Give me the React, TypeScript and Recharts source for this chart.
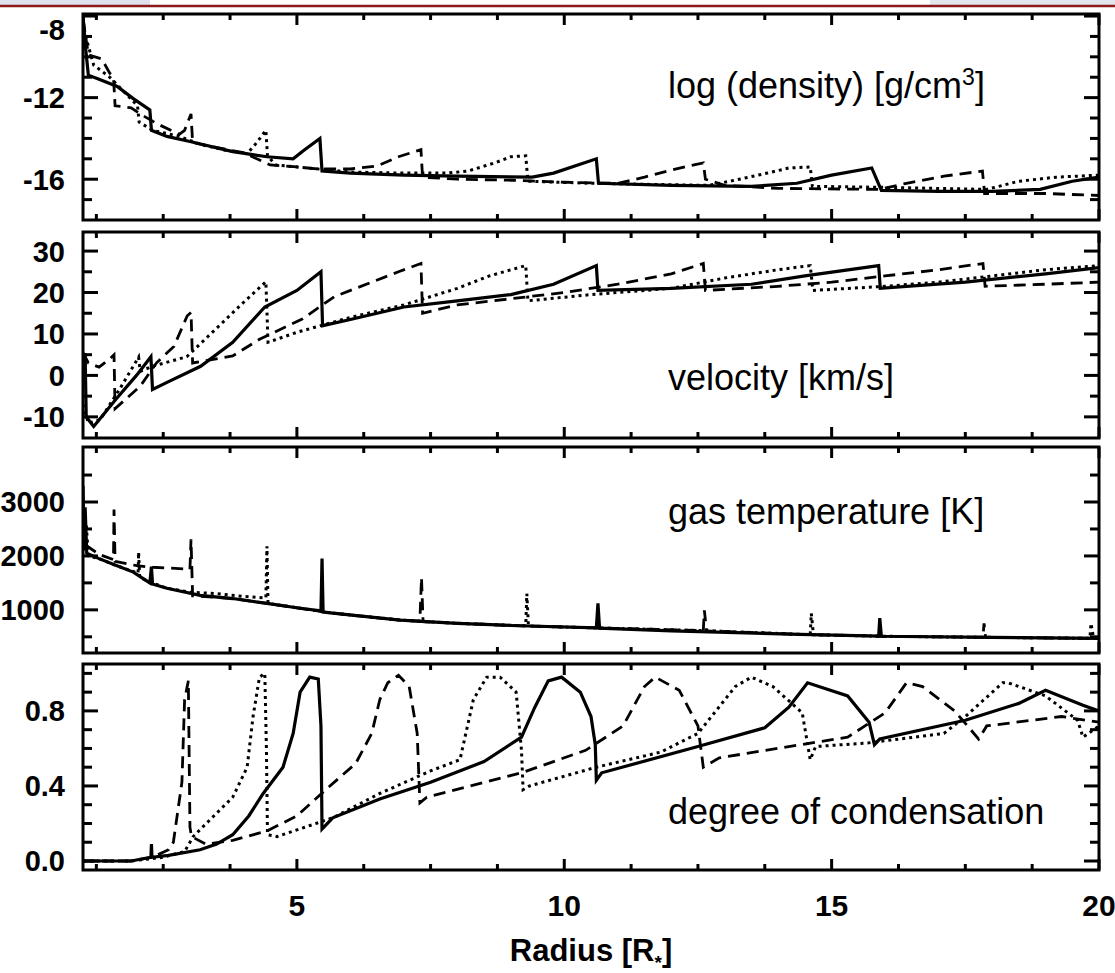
import React from 'react';
import { LineChart, Line, XAxis, YAxis, ReferenceArea } from 'recharts';

type Pt = [number, number];

// shared radius axis
const xTicks = [1.25, 2.5, 3.75, 5, 6.25, 7.5, 8.75, 10, 11.25, 12.5, 13.75, 15, 16.25, 17.5, 18.75, 20];
const xLabels = [5, 10, 15, 20];

// log(density)
const densityTicks = [-17, -16, -15, -14, -13, -12, -11, -10, -9, -8];
const densityLabels = [-16, -12, -8];
const densitySolid: Pt[] = [
  [1.0, -8.0], [1.05, -9.6], [1.1, -10.9], [1.3, -11.1], [1.64, -11.45], [1.94, -12.05], [2.25, -12.6],
  [2.28, -13.6], [2.57, -13.9], [3.0, -14.15], [3.8, -14.65], [4.44, -14.9], [4.93, -15.0], [5.12, -14.6],
  [5.43, -14.0], [5.47, -15.6], [6.0, -15.7], [7.0, -15.8], [8.0, -15.85], [9.4, -15.9], [9.8, -15.7],
  [10.6, -15.0], [10.64, -16.2], [12.0, -16.3], [13.5, -16.35], [14.35, -16.2], [15.0, -15.8], [15.75, -15.45],
  [15.93, -16.55], [17.0, -16.6], [18.0, -16.6], [18.9, -16.5], [19.5, -16.1], [20.0, -15.9],
];
const densityDashed: Pt[] = [
  [1.0, -8.1], [1.1, -9.9], [1.35, -10.1], [1.5, -10.8], [1.57, -11.0], [1.6, -12.4], [1.9, -12.5],
  [2.1, -12.85], [2.4, -13.3], [2.8, -13.8], [2.9, -13.6], [3.02, -12.8], [3.05, -14.2], [3.4, -14.4],
  [4.0, -14.7], [4.5, -15.3], [5.0, -15.4], [5.4, -15.5], [6.0, -15.5], [6.5, -15.35], [6.9, -14.9],
  [7.32, -14.55], [7.35, -15.9], [8.0, -16.0], [9.0, -16.05], [10.0, -16.15], [11.0, -16.2], [11.5, -15.9],
  [12.0, -15.55], [12.6, -15.2], [12.64, -16.0], [13.0, -16.3], [14.0, -16.45], [15.9, -16.5], [16.4, -16.2],
  [17.1, -15.85], [17.82, -15.6], [17.86, -16.7], [19.0, -16.7], [20.0, -16.8],
];
const densityDotted: Pt[] = [
  [1.0, -8.3], [1.05, -9.0], [1.2, -10.4], [1.5, -11.0], [1.8, -11.8], [2.02, -12.4], [2.05, -13.2],
  [2.3, -13.6], [2.8, -13.9], [3.2, -14.3], [3.7, -14.6], [4.07, -14.75], [4.25, -14.2], [4.42, -13.6],
  [4.45, -14.85], [4.6, -15.3], [5.2, -15.45], [6.0, -15.65], [7.0, -15.7], [7.8, -15.7], [8.2, -15.6],
  [8.7, -15.2], [9.0, -14.9], [9.28, -14.85], [9.32, -16.1], [10.5, -16.2], [11.5, -16.25], [12.7, -16.3],
  [13.1, -16.1], [13.8, -15.7], [14.2, -15.45], [14.6, -15.4], [14.64, -16.35], [16.0, -16.4], [17.9, -16.5],
  [18.5, -16.1], [19.2, -15.9], [20.0, -15.8],
];

// velocity [km/s]
const velocityTicks = [-10, -5, 0, 5, 10, 15, 20, 25, 30];
const velocityLabels = [-10, 0, 10, 20, 30];
const velocitySolid: Pt[] = [
  [1.0, 5], [1.04, 5], [1.06, -10], [1.2, -12.3], [1.6, -6], [2.0, 0], [2.27, 4.5], [2.3, -3.4], [2.6, -1.5],
  [3.2, 2.2], [3.8, 8], [4.4, 16.5], [5.0, 20.5], [5.45, 25], [5.48, 12], [6.0, 13.5], [7.0, 16.5], [8.0, 18],
  [9.0, 19.5], [9.8, 22], [10.6, 26.5], [10.63, 20.5], [12.0, 21], [13.5, 22], [14.5, 24], [15.88, 26.5],
  [15.91, 21], [17.5, 22.5], [19.0, 24.5], [20.0, 26],
];
const velocityDashed: Pt[] = [
  [1.0, 5.5], [1.1, 3], [1.3, 2], [1.5, 4], [1.58, 5], [1.6, -8], [2.07, -2.6], [2.38, 3.1], [2.7, 7],
  [2.95, 14.4], [3.02, 15.2], [3.05, 3], [3.8, 4.7], [4.3, 8.7], [5.1, 13.6], [5.7, 19], [6.9, 25],
  [7.32, 27], [7.35, 15], [8.0, 17], [9.0, 18.5], [10.0, 20], [11.0, 22], [12.0, 24.5], [12.6, 27],
  [12.64, 20.5], [14.0, 21.5], [15.0, 22.5], [16.0, 24], [17.0, 25.5], [17.83, 27], [17.87, 21.5],
  [19.0, 22], [20.0, 22.5],
];
const velocityDotted: Pt[] = [
  [1.0, -7], [1.1, -11.5], [1.32, -10.7], [1.7, -3], [2.04, 4.4], [2.07, 1], [2.3, 2.2], [2.94, 4.5],
  [3.5, 11.4], [4.0, 17.6], [4.42, 22.6], [4.46, 8], [5.0, 10.4], [6.0, 14], [7.0, 17], [8.0, 21], [8.6, 24],
  [9.28, 26.5], [9.32, 18], [10.5, 19.5], [12.0, 21], [13.0, 23.5], [14.0, 25.5], [14.6, 26.5], [14.65, 20.5],
  [16.0, 21.5], [17.0, 22.5], [18.0, 24], [19.0, 25.5], [20.0, 26.5],
];

// gas temperature [K]
const temperatureTicks = [500, 1000, 1500, 2000, 2500, 3000, 3500];
const temperatureLabels = [1000, 2000, 3000];
const temperatureSolid: Pt[] = [
  [1.0, 3300], [1.02, 2100], [1.04, 2900], [1.07, 2050], [1.3, 1950], [1.6, 1830], [1.94, 1700], [2.25, 1500],
  [2.28, 1800], [2.3, 1480], [2.57, 1400], [3.19, 1270], [3.8, 1210], [4.44, 1120], [5.06, 1030], [5.45, 980],
  [5.46, 1450], [5.47, 1950], [5.49, 960], [5.67, 940], [6.93, 810], [8.0, 750], [9.0, 710], [10.6, 665],
  [10.63, 1120], [10.66, 660], [12.0, 610], [14.4, 545], [15.88, 515], [15.9, 845], [15.93, 510], [18.0, 490],
  [20.0, 470],
];
const temperatureDashed: Pt[] = [
  [1.0, 2900], [1.05, 2200], [1.3, 2030], [1.57, 1930], [1.58, 2860], [1.6, 1900], [2.0, 1820], [2.3, 1790],
  [2.9, 1760], [3.0, 1750], [3.02, 2310], [3.05, 1260], [3.8, 1210], [4.44, 1120], [5.06, 1030], [5.67, 940],
  [6.93, 810], [7.3, 790], [7.33, 1600], [7.36, 780], [9.0, 710], [10.6, 665], [12.6, 615], [12.62, 990],
  [12.66, 612], [14.4, 545], [16.0, 510], [17.83, 492], [17.85, 750], [17.88, 490], [20.0, 470],
];
const temperatureDotted: Pt[] = [
  [1.0, 2800], [1.03, 2200], [1.06, 2600], [1.1, 2000], [1.3, 1950], [1.6, 1830], [2.03, 1680], [2.04, 2070],
  [2.06, 1600], [2.3, 1500], [2.57, 1400], [3.0, 1330], [3.5, 1300], [4.0, 1250], [4.42, 1220], [4.44, 2180],
  [4.46, 1120], [5.06, 1030], [5.67, 940], [6.93, 810], [8.0, 750], [9.28, 705], [9.3, 1300], [9.33, 700],
  [10.6, 665], [12.6, 615], [14.6, 540], [14.62, 935], [14.66, 538], [16.0, 510], [18.0, 490], [19.83, 472],
  [19.85, 750], [19.9, 470], [20.0, 470],
];

// degree of condensation
const condensationTicks = [0, 0.1, 0.2, 0.3, 0.4, 0.5, 0.6, 0.7, 0.8, 0.9, 1.0];
const condensationLabels = [0, 0.4, 0.8];
const condensationSolid: Pt[] = [
  [1.0, 0], [1.9, 0], [2.27, 0.02], [2.28, 0.09], [2.29, 0.02], [2.6, 0.03], [3.19, 0.06], [3.5, 0.09],
  [3.8, 0.14], [4.1, 0.24], [4.37, 0.36], [4.74, 0.5], [4.93, 0.68], [5.06, 0.9], [5.24, 0.98], [5.4, 0.97],
  [5.45, 0.72], [5.47, 0.17], [5.67, 0.23], [6.55, 0.33], [7.5, 0.42], [8.5, 0.53], [9.2, 0.66], [9.45, 0.82],
  [9.7, 0.96], [9.95, 0.98], [10.3, 0.9], [10.5, 0.77], [10.58, 0.62], [10.6, 0.43], [10.7, 0.47], [12.5, 0.61],
  [13.75, 0.71], [14.2, 0.82], [14.55, 0.95], [15.3, 0.88], [15.7, 0.74], [15.8, 0.62], [15.9, 0.65],
  [17.5, 0.75], [18.5, 0.84], [19.0, 0.91], [19.7, 0.83], [20.0, 0.8],
];
const condensationDashed: Pt[] = [
  [1.0, 0], [1.9, 0], [2.3, 0.02], [2.6, 0.06], [2.69, 0.1], [2.85, 0.42], [2.9, 0.86], [2.97, 0.96],
  [3.0, 0.18], [3.03, 0.13], [3.3, 0.09], [3.8, 0.11], [4.44, 0.16], [5.0, 0.24], [5.5, 0.37], [6.1, 0.52],
  [6.4, 0.68], [6.55, 0.86], [6.7, 0.95], [6.9, 0.99], [7.1, 0.93], [7.25, 0.68], [7.3, 0.31], [7.43, 0.34],
  [9.2, 0.47], [10.4, 0.59], [11.1, 0.72], [11.5, 0.93], [11.7, 0.98], [12.15, 0.91], [12.5, 0.72],
  [12.6, 0.5], [12.9, 0.55], [15.3, 0.66], [16.0, 0.79], [16.4, 0.95], [16.7, 0.93], [17.3, 0.8],
  [17.75, 0.65], [17.9, 0.72], [19.3, 0.77], [20.0, 0.74],
];
const condensationDotted: Pt[] = [
  [1.0, 0], [1.9, 0], [2.5, 0.02], [2.9, 0.05], [3.06, 0.13], [3.2, 0.17], [3.8, 0.34], [4.07, 0.5],
  [4.18, 0.77], [4.3, 0.98], [4.4, 1.0], [4.43, 0.6], [4.45, 0.14], [4.63, 0.13], [5.67, 0.23], [6.55, 0.36],
  [7.5, 0.48], [8.05, 0.54], [8.3, 0.86], [8.55, 0.98], [8.8, 0.98], [9.1, 0.9], [9.2, 0.59], [9.23, 0.38],
  [9.35, 0.4], [10.6, 0.5], [11.8, 0.58], [12.5, 0.68], [13.2, 0.93], [13.5, 0.98], [13.9, 0.93],
  [14.45, 0.79], [14.6, 0.54], [14.7, 0.61], [15.7, 0.63], [17.1, 0.68], [17.5, 0.77], [18.2, 0.95],
  [18.3, 0.95], [19.0, 0.88], [19.6, 0.75], [19.7, 0.66], [20.0, 0.72],
];

const FONT = '"Liberation Sans", Arial, Helvetica, sans-serif';
const W = 1115;
const H = 973;
const MT = 10;
const PANEL_H = 206;
const PLOT_LEFT = 83;
const PLOT_RIGHT = 1099;
const PLOT_BOTTOM = MT + PANEL_H;

const toRows = (pts: Pt[]) => pts.map(([x, y]) => ({ x, y }));

const XTick = (props: any) => {
  const { x, payload, showLabel } = props;
  const v = payload.value;
  const major = xLabels.includes(v);
  const len = major ? 11 : 6;
  return (
    <g>
      <line x1={x} x2={x} y1={PLOT_BOTTOM} y2={PLOT_BOTTOM - len} stroke="#000" strokeWidth={3} />
      <line x1={x} x2={x} y1={MT} y2={MT + len} stroke="#000" strokeWidth={3} />
      {showLabel && major && (
        <text x={x} y={PLOT_BOTTOM + 46} textAnchor="middle" fontFamily={FONT} fontWeight="bold" fontSize={30} fill="#000">
          {v}
        </text>
      )}
    </g>
  );
};

const YTick = (props: any) => {
  const { y, payload, labels, fmt } = props;
  const v = payload.value;
  const major = labels.includes(v);
  const len = major ? 15 : 9;
  // the topmost label sits a little below the frame, as in the original
  const ly = Math.max(y, MT + 16);
  return (
    <g>
      <line x1={PLOT_LEFT} x2={PLOT_LEFT + len} y1={y} y2={y} stroke="#000" strokeWidth={3} />
      <line x1={PLOT_RIGHT - len} x2={PLOT_RIGHT} y1={y} y2={y} stroke="#000" strokeWidth={3} />
      {major && (
        <text x={65} y={ly} dy="0.36em" textAnchor="end" fontFamily={FONT} fontWeight="bold" fontSize={29} fill="#000">
          {fmt ? fmt(v) : v}
        </text>
      )}
    </g>
  );
};

interface PanelProps {
  top: number;
  solid: Pt[];
  dashed: Pt[];
  dotted: Pt[];
  domain: [number, number];
  ticks: number[];
  labels: number[];
  fmt?: (v: number) => string;
  bottom?: boolean;
}

const Panel: React.FC<PanelProps> = ({ top, solid, dashed, dotted, domain, ticks, labels, fmt, bottom }) => {
  const xh = bottom ? 110 : 12;
  return (
    <div style={{ position: 'absolute', left: 0, top: top - MT }}>
      <LineChart width={W} height={MT + PANEL_H + xh} margin={{ top: MT, right: W - PLOT_RIGHT, bottom: 0, left: 8 }}>
        <XAxis
          type="number"
          dataKey="x"
          domain={[1, 20]}
          ticks={xTicks}
          interval={0}
          allowDataOverflow
          axisLine={false}
          tickLine={false}
          height={xh}
          tick={(p: any) => <XTick {...p} showLabel={!!bottom} />}
        />
        <YAxis
          type="number"
          domain={domain}
          ticks={ticks}
          interval={0}
          allowDataOverflow
          axisLine={false}
          tickLine={false}
          width={75}
          tick={(p: any) => <YTick {...p} labels={labels} fmt={fmt} />}
        />
        <Line data={toRows(dotted)} dataKey="y" type="linear" stroke="#000" strokeWidth={3} strokeDasharray="3 4" dot={false} isAnimationActive={false} />
        <Line data={toRows(dashed)} dataKey="y" type="linear" stroke="#000" strokeWidth={2.8} strokeDasharray="12 7" dot={false} isAnimationActive={false} />
        <Line data={toRows(solid)} dataKey="y" type="linear" stroke="#000" strokeWidth={3.2} dot={false} isAnimationActive={false} />
        <ReferenceArea x1={1} x2={20} y1={domain[0]} y2={domain[1]} fill="none" fillOpacity={0} stroke="#000" strokeWidth={3} />
      </LineChart>
    </div>
  );
};

const titleStyle = { fontFamily: FONT, fontSize: 36, fill: '#000' };

export default function App() {
  return (
    <div style={{ position: 'absolute', left: 0, top: 0, width: W, height: H, background: '#fff', overflow: 'hidden' }}>
      <Panel top={14} solid={densitySolid} dashed={densityDashed} dotted={densityDotted}
        domain={[-18.0, -7.9]} ticks={densityTicks} labels={densityLabels} />
      <Panel top={232} solid={velocitySolid} dashed={velocityDashed} dotted={velocityDotted}
        domain={[-15.1, 34.6]} ticks={velocityTicks} labels={velocityLabels} />
      <Panel top={447} solid={temperatureSolid} dashed={temperatureDashed} dotted={temperatureDotted}
        domain={[200, 4020]} ticks={temperatureTicks} labels={temperatureLabels} />
      <Panel top={664} solid={condensationSolid} dashed={condensationDashed} dotted={condensationDotted}
        domain={[-0.048, 1.05]} ticks={condensationTicks} labels={condensationLabels}
        fmt={(v) => v.toFixed(1)} bottom />
      <svg width={W} height={H} style={{ position: 'absolute', left: 0, top: 0, pointerEvents: 'none' }}>
        <rect x={0} y={0} width={150} height={5} fill="#dfe1ee" />
        <rect x={930} y={0} width={185} height={5} fill="#e4e6ee" />
        <line x1={0} x2={W} y1={6} y2={6} stroke="#8b1a1a" strokeWidth={2.5} />
        <text x={668} y={98} {...titleStyle}>
          log (density) [g/cm<tspan fontSize={23} dy={-13}>3</tspan><tspan dy={13}>]</tspan>
        </text>
        <text x={668} y={390} {...titleStyle}>velocity [km/s]</text>
        <text x={668} y={524} {...titleStyle}>gas temperature [K]</text>
        <text x={668} y={824} {...titleStyle}>degree of condensation</text>
        <text x={591} y={961} textAnchor="middle" fontFamily={FONT} fontWeight="bold" fontSize={31} fill="#000">
          Radius [R<tspan fontSize={19} dy={8}>*</tspan><tspan dy={-8}>]</tspan>
        </text>
      </svg>
    </div>
  );
}
